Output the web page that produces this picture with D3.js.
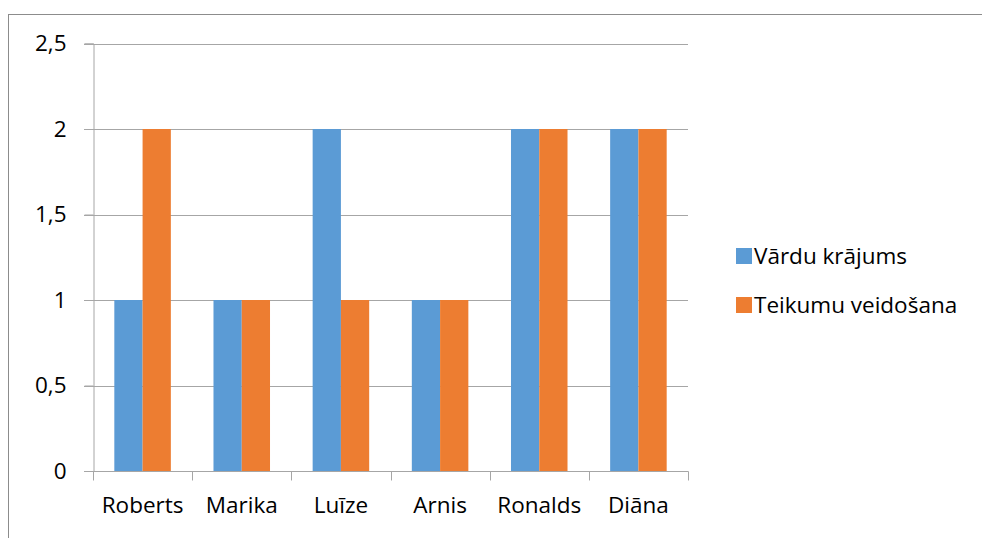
<!DOCTYPE html>
<html>
<head>
<meta charset="utf-8">
<script src="https://cdn.jsdelivr.net/npm/d3@7"></script>
<style>
  body { margin: 0; background: #fff; }
  svg { display: block; font-family: "Open Sans", "Noto Sans", sans-serif; }
</style>
</head>
<body>
<div id="chart"></div>
<script>
// data
var names = ["Roberts", "Marika", "Luīze", "Arnis", "Ronalds", "Diāna"];
var seriesNames = ["Vārdu krājums", "Teikumu veidošana"];
var vardu = [1, 1, 2, 1, 2, 2];
var teikumu = [2, 1, 1, 1, 2, 2];
var yTicks = [0, 0.5, 1, 1.5, 2, 2.5];
var colors = ["#5b9bd5", "#ed7d31"];

var w = 982, h = 538;
var plotLeft = 93, plotRight = 688, plotTop = 43.5, plotBottom = 471;
var fontSize = "22.5px";

var svg = d3.select("#chart").append("svg")
  .attr("width", w)
  .attr("height", h);

// outer frame of the chart area
svg.append("rect")
  .attr("x", 8.5).attr("y", 14.5)
  .attr("width", 1000).attr("height", 600)
  .attr("fill", "none")
  .attr("stroke", "#8c8c8c")
  .attr("stroke-width", 1);

var x0 = d3.scaleBand().domain(names).range([plotLeft, plotRight]).padding(0);
var x1 = d3.scaleBand().domain(seriesNames)
  .range([x0.bandwidth() * 0.215, x0.bandwidth() * 0.785]);
var y = d3.scaleLinear().domain([0, 2.5]).range([plotBottom, plotTop]);

// gridlines
svg.append("g").selectAll("line")
  .data(yTicks.filter(function(d) { return d > 0; }))
  .enter().append("line")
  .attr("x1", 84).attr("x2", plotRight)
  .attr("y1", function(d) { return Math.round(y(d)) + 0.5; })
  .attr("y2", function(d) { return Math.round(y(d)) + 0.5; })
  .attr("stroke", "#a6a6a6");

// bars
var rows = names.map(function(n, i) {
  return { name: n, values: [vardu[i], teikumu[i]] };
});

var groups = svg.append("g").selectAll("g")
  .data(rows)
  .enter().append("g")
  .attr("transform", function(d) { return "translate(" + x0(d.name) + ",0)"; });

groups.selectAll("rect")
  .data(function(d) {
    return d.values.map(function(v, j) { return { s: seriesNames[j], v: v, j: j }; });
  })
  .enter().append("rect")
  .attr("x", function(d) { return x1(d.s); })
  .attr("width", x1.bandwidth())
  .attr("y", function(d) { return y(d.v); })
  .attr("height", function(d) { return plotBottom - y(d.v); })
  .attr("fill", function(d) { return colors[d.j]; });

// y axis
var yAxis = svg.append("g")
  .attr("transform", "translate(" + (plotLeft + 0.5) + ",0)")
  .call(d3.axisLeft(y).tickValues(yTicks).tickSize(9).tickPadding(18)
    .tickFormat(function(d) { return String(d).replace(".", ","); }));
yAxis.select(".domain").attr("stroke", "#a6a6a6");
yAxis.selectAll(".tick line").attr("stroke", "#a6a6a6");
yAxis.selectAll("text")
  .attr("font-size", fontSize)
  .attr("fill", "#000")
  .attr("font-family", "Open Sans, Noto Sans, sans-serif");

// x axis
var xAxis = svg.append("g")
  .attr("transform", "translate(0," + (plotBottom + 0.5) + ")")
  .call(d3.axisBottom(x0).tickSize(0).tickPadding(25.5));
xAxis.select(".domain").attr("d", "M" + 84 + ",0H" + (plotRight + 0.5)).attr("stroke", "#a6a6a6");
xAxis.selectAll("text")
  .attr("font-size", fontSize)
  .attr("fill", "#000")
  .attr("font-family", "Open Sans, Noto Sans, sans-serif");

// category boundary ticks
xAxis.append("g").selectAll("line")
  .data(d3.range(names.length + 1))
  .enter().append("line")
  .attr("x1", function(i) { return Math.round(plotLeft + i * x0.step()) + 0.5; })
  .attr("x2", function(i) { return Math.round(plotLeft + i * x0.step()) + 0.5; })
  .attr("y1", 0).attr("y2", 9)
  .attr("stroke", "#a6a6a6");

// legend
var legend = svg.append("g").selectAll("g")
  .data(seriesNames)
  .enter().append("g")
  .attr("transform", function(d, i) { return "translate(736," + (248 + i * 49) + ")"; });

legend.append("rect")
  .attr("width", 16).attr("height", 16)
  .attr("fill", function(d, i) { return colors[i]; });

legend.append("text")
  .attr("x", 18).attr("y", 16)
  .attr("font-size", fontSize)
  .attr("fill", "#000")
  .text(function(d) { return d; });
</script>
</body>
</html>
